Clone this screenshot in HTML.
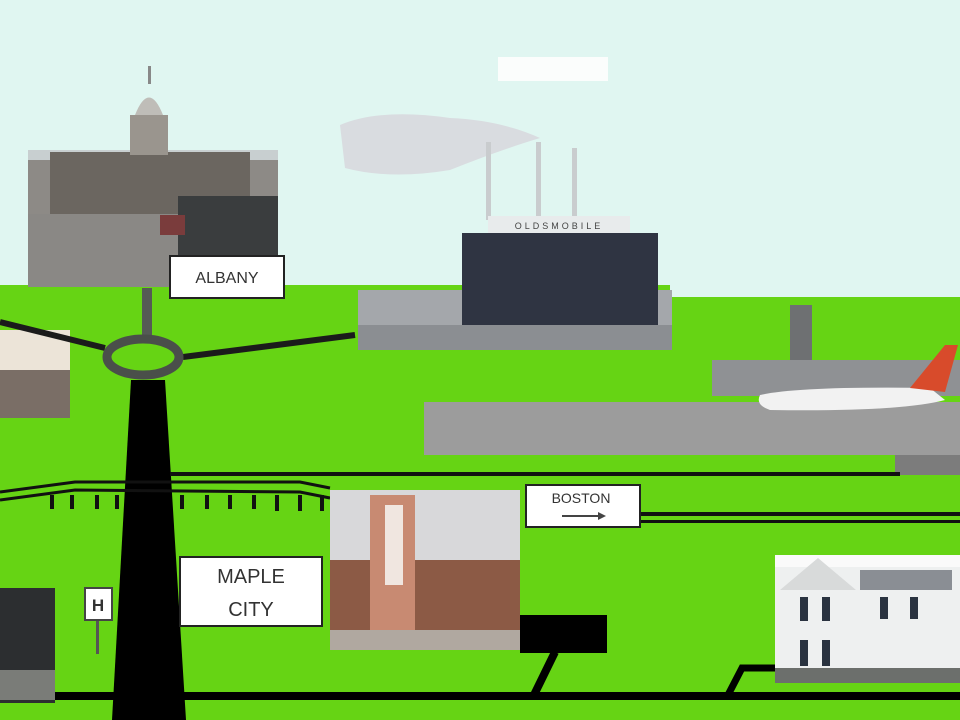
<!DOCTYPE html>
<html><head><meta charset="utf-8"><style>html,body{margin:0;padding:0;width:960px;height:720px;overflow:hidden;background:#66d414}</style></head>
<body>
<svg width="960" height="720" viewBox="0 0 960 720" xmlns="http://www.w3.org/2000/svg">
<rect x="0" y="0" width="960" height="720" fill="#66d414"/>
<rect x="0" y="0" width="960" height="285" fill="#e0f6f1"/>
<rect x="670" y="280" width="290" height="17" fill="#e0f6f1"/>
<rect x="498" y="57" width="110" height="24" fill="#fbfdfc"/>
<rect x="28" y="150" width="250" height="137" fill="#8d8a86"/>
<rect x="28" y="150" width="250" height="10" fill="#c8cfd0"/>
<rect x="50" y="152" width="200" height="62" fill="#6b6660"/>
<rect x="130" y="115" width="38" height="40" fill="#9a958e"/>
<path d="M135 115 Q149 80 163 115 Z" fill="#bfbdb8"/>
<rect x="148" y="66" width="3" height="18" fill="#888"/>
<rect x="28" y="214" width="250" height="73" fill="#8a8885"/>
<rect x="178" y="196" width="100" height="62" fill="#3a3d3e"/>
<rect x="160" y="215" width="25" height="20" fill="#7a3c3c"/>
<rect x="170" y="256" width="114" height="42" fill="#fff" stroke="#222" stroke-width="2"/>
<text x="227" y="283" font-family="Liberation Sans, sans-serif" font-size="16" text-anchor="middle" fill="#333">ALBANY</text>
<path d="M340 125 Q380 108 450 118 Q500 120 540 138 Q500 150 450 170 Q390 180 345 168 Z" fill="#d9dce0"/>
<rect x="486" y="142" width="5" height="78" fill="#c9ccce"/>
<rect x="536" y="142" width="5" height="78" fill="#c9ccce"/>
<rect x="572" y="148" width="5" height="72" fill="#c9ccce"/>
<rect x="488" y="216" width="142" height="18" fill="#e8ebec"/>
<text x="559" y="229" font-family="Liberation Sans, sans-serif" font-size="9" text-anchor="middle" fill="#444" letter-spacing="3">OLDSMOBILE</text>
<rect x="358" y="290" width="314" height="60" fill="#a4a7ab"/>
<rect x="462" y="233" width="196" height="97" fill="#2f3442"/>
<rect x="358" y="325" width="314" height="25" fill="#8b8e92"/>
<rect x="712" y="360" width="248" height="36" fill="#8f9194"/>
<rect x="790" y="305" width="22" height="55" fill="#6e7072"/>
<rect x="424" y="402" width="536" height="53" fill="#9c9c9c"/>
<rect x="895" y="455" width="65" height="20" fill="#7c7c7c"/>
<path d="M760 395 Q800 386 930 388 L945 400 Q900 412 770 410 Q755 405 760 395 Z" fill="#f2f2f2"/>
<path d="M910 388 L945 345 L958 345 L945 392 Z" fill="#d84b2b"/>
<rect x="0" y="330" width="70" height="88" fill="#7a6e66"/>
<rect x="0" y="330" width="70" height="40" fill="#ece4d8"/>
<path d="M0 322 L105 348" stroke="#1b1b1b" stroke-width="6" fill="none"/>
<path d="M183 357 L355 335" stroke="#1b1b1b" stroke-width="6" fill="none"/>
<rect x="142" y="288" width="10" height="50" fill="#555a55"/>
<ellipse cx="143" cy="357" rx="36" ry="18" fill="#66d414" stroke="#4a4f4a" stroke-width="9"/>
<path d="M131 380 L165 380 L186 720 L112 720 Z" fill="#000"/>
<path d="M0 492 L75 482 L300 482 L330 488" stroke="#111" stroke-width="3" fill="none"/>
<path d="M0 500 L75 490 L300 492 L330 498" stroke="#111" stroke-width="3" fill="none"/>
<rect x="170" y="472" width="730" height="4" fill="#111"/>
<g fill="#111"><rect x="50" y="495" width="4" height="14"/><rect x="70" y="495" width="4" height="14"/><rect x="95" y="495" width="4" height="14"/><rect x="115" y="495" width="4" height="14"/><rect x="180" y="495" width="4" height="14"/><rect x="205" y="495" width="4" height="14"/><rect x="228" y="495" width="4" height="14"/><rect x="252" y="495" width="4" height="14"/><rect x="275" y="495" width="4" height="16"/><rect x="298" y="495" width="4" height="16"/><rect x="320" y="495" width="4" height="16"/></g>
<rect x="640" y="512" width="320" height="4" fill="#111"/>
<rect x="640" y="520" width="320" height="3" fill="#111"/>
<rect x="330" y="490" width="190" height="160" fill="#8c5a45"/>
<rect x="330" y="490" width="190" height="70" fill="#d8d8da"/>
<rect x="370" y="495" width="45" height="140" fill="#c88a72"/>
<rect x="385" y="505" width="18" height="80" fill="#f0e6e0"/>
<rect x="330" y="630" width="190" height="20" fill="#b0a8a0"/>
<rect x="520" y="615" width="87" height="38" fill="#000"/>
<path d="M555 652 L533 697" stroke="#000" stroke-width="8"/>
<rect x="526" y="485" width="114" height="42" fill="#fff" stroke="#222" stroke-width="2"/>
<text x="581" y="503" font-family="Liberation Sans, sans-serif" font-size="14" text-anchor="middle" fill="#333">BOSTON</text>
<path d="M562 516 L600 516" stroke="#444" stroke-width="2"/><path d="M598 512 L606 516 L598 520 Z" fill="#444"/>
<rect x="180" y="557" width="142" height="69" fill="#fff" stroke="#222" stroke-width="2"/>
<text x="251" y="583" font-family="Liberation Sans, sans-serif" font-size="20" text-anchor="middle" fill="#333">MAPLE</text>
<text x="251" y="616" font-family="Liberation Sans, sans-serif" font-size="20" text-anchor="middle" fill="#333">CITY</text>
<rect x="96" y="618" width="3" height="36" fill="#555"/>
<rect x="85" y="588" width="27" height="32" fill="#fff" stroke="#444" stroke-width="2"/>
<text x="98" y="611" font-family="Liberation Sans, sans-serif" font-size="17" font-weight="bold" text-anchor="middle" fill="#333">H</text>
<rect x="0" y="588" width="55" height="115" fill="#2c2e30"/>
<rect x="0" y="670" width="55" height="30" fill="#7a7c78"/>
<rect x="775" y="555" width="185" height="128" fill="#eef0f0"/>
<rect x="775" y="555" width="185" height="12" fill="#fafafa"/>
<path d="M780 590 L818 558 L856 590 Z" fill="#d8dada"/>
<rect x="860" y="570" width="92" height="20" fill="#8a8e94"/>
<g fill="#2a3340"><rect x="800" y="597" width="8" height="24"/><rect x="822" y="597" width="8" height="24"/><rect x="880" y="597" width="8" height="22"/><rect x="910" y="597" width="8" height="22"/><rect x="800" y="640" width="8" height="26"/><rect x="822" y="640" width="8" height="26"/></g>
<rect x="775" y="668" width="185" height="15" fill="#6c6f6c"/>
<path d="M728 695 L742 668 L775 668" stroke="#000" stroke-width="7" fill="none"/>
<rect x="55" y="692" width="905" height="8" fill="#000"/>
</svg>
</body></html>
